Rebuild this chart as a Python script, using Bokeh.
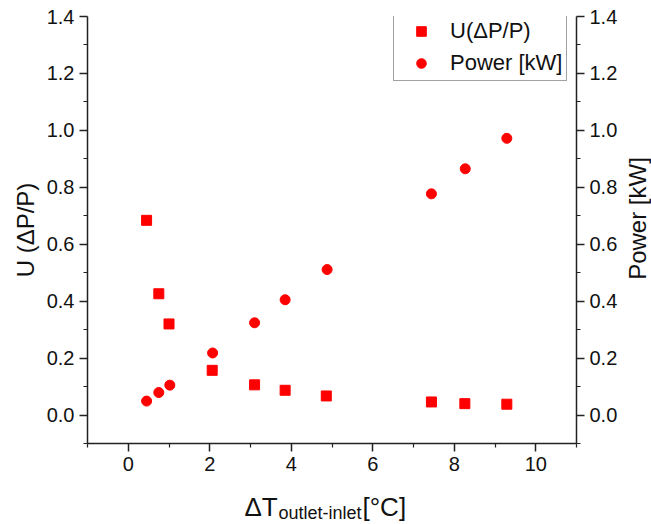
import math
from bokeh.plotting import figure
from bokeh.layouts import column, row
from bokeh.models import (Range1d, LinearAxis, FixedTicker, Legend, LegendItem,
                          PrintfTickFormatter, ColumnDataSource)
from bokeh.core.properties import value
from bokeh.embed import file_html
from bokeh.resources import INLINE

# Data
dT_u = [0.45, 0.75, 1.0, 2.06, 3.1, 3.85, 4.86, 7.44, 8.26, 9.29]
u_dp = [0.684, 0.426, 0.32, 0.157, 0.106, 0.087, 0.067, 0.046, 0.040, 0.038]
dT_p = [0.45, 0.75, 1.02, 2.07, 3.1, 3.85, 4.88, 7.44, 8.27, 9.29]
power = [0.049, 0.079, 0.105, 0.218, 0.324, 0.405, 0.511, 0.777, 0.865, 0.972]

x_ticks = [0, 2, 4, 6, 8, 10]
x_minor = [-1, 1, 3, 5, 7, 9, 11]
y_ticks = [0.0, 0.2, 0.4, 0.6, 0.8, 1.0, 1.2, 1.4]
y_minor = [-0.1, 0.1, 0.3, 0.5, 0.7, 0.9, 1.1, 1.3]

title_parts = ["ΔT", "outlet-inlet", "[°C]"]
right_label = ["Power [kW]"]

FONT = "Liberation Sans"
RED = "#ff0000"
AX = "#222222"
TXT = "#111111"


def strip(w, h):
    f = figure(width=w, height=h, output_backend="svg", toolbar_location=None,
               x_range=Range1d(0, w), y_range=Range1d(h, 0),
               x_axis_location=None, y_axis_location=None,
               min_border_left=0, min_border_right=0, min_border_top=0,
               min_border_bottom=0)
    f.grid.visible = False
    f.outline_line_color = None
    f.title.visible = False
    return f


p = figure(width=623, height=484, output_backend="svg", toolbar_location=None,
           x_range=Range1d(-1, 11), y_range=Range1d(-0.1, 1.4),
           min_border_left=87, min_border_right=47, min_border_top=16,
           min_border_bottom=41, x_axis_label=None, y_axis_label="U (ΔP/P)")
p.extra_y_ranges = {"power": Range1d(-0.1, 1.4)}
p.grid.visible = False
p.outline_line_color = None
p.title.visible = False

r_axis = LinearAxis(y_range_name="power")
p.add_layout(r_axis, "right")

for ax in p.xaxis:
    ax.ticker = FixedTicker(ticks=x_ticks, minor_ticks=x_minor)
for ax in p.yaxis:
    ax.ticker = FixedTicker(ticks=y_ticks, minor_ticks=y_minor)
    ax.formatter = PrintfTickFormatter(format="%.1f")

for ax in list(p.xaxis) + list(p.yaxis):
    ax.axis_line_color = AX
    ax.axis_line_width = 1.5
    ax.major_tick_line_color = AX
    ax.major_tick_line_width = 1.5
    ax.minor_tick_line_color = AX
    ax.minor_tick_line_width = 1.2
    ax.major_tick_out = 8
    ax.major_tick_in = 0
    ax.minor_tick_out = 4
    ax.minor_tick_in = 0
    ax.major_label_text_font = FONT
    ax.major_label_text_font_size = "20px"
    ax.major_label_text_color = TXT
    ax.major_label_standoff = 5
    ax.axis_label_text_font = FONT
    ax.axis_label_text_font_size = "24px"
    ax.axis_label_text_font_style = "normal"
    ax.axis_label_text_color = TXT
    ax.axis_label_standoff = 5

r1 = p.scatter(dT_u, u_dp, marker="square", size=10, color=RED)
r2 = p.scatter(dT_p, power, marker="circle", size=10, color=RED, y_range_name="power")

legend = Legend(items=[LegendItem(label="U(ΔP/P)", renderers=[r1]),
                       LegendItem(label="Power [kW]", renderers=[r2])],
                location=(306, 362), margin=0, padding=4, spacing=6,
                glyph_width=46, glyph_height=24, label_height=24, label_standoff=6,
                label_text_font=FONT, label_text_font_size="22px",
                label_text_color=TXT,
                border_line_color="#444444", border_line_width=1,
                background_fill_alpha=1.0)
p.add_layout(legend, "center")

# right axis title, reading bottom-to-top
rs = strip(28, 484)
rs.text(x=[14], y=[229], text=right_label, angle=math.pi / 2,
        text_font=value(FONT), text_font_size="24px", text_color=TXT,
        text_align="center", text_baseline="middle")

# x-axis title with subscript
bs = strip(651, 40)
src = ColumnDataSource(dict(x=[244, 278, 362], y=[22, 28, 22], text=title_parts,
                            size=["26px", "18px", "26px"]))
bs.text(x="x", y="y", text="text", source=src, text_font=value(FONT),
        text_font_size="size", text_color=TXT, text_baseline="alphabetic",
        text_align="left")

layout = column(row(p, rs, spacing=0), bs, spacing=0)
open("out.html", "w").write(file_html(layout, INLINE))
